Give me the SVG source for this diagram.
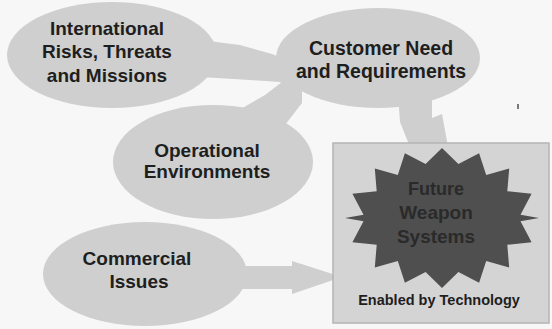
<svg xmlns="http://www.w3.org/2000/svg" width="552" height="329" viewBox="0 0 552 329">
  <style>
    .bubble { fill: #cfcfcf; }
    .flow { fill: #cfcfcf; }
    .label { font-family: "Liberation Sans", Arial, sans-serif; font-weight: bold; font-size: 19px; fill: #1e1e1e; text-anchor: middle; }
    .core { font-family: "Liberation Sans", Arial, sans-serif; font-weight: bold; font-size: 19px; fill: #2a2a2a; text-anchor: middle; }
    .note { font-family: "Liberation Sans", Arial, sans-serif; font-weight: bold; font-size: 14.5px; fill: #1e1e1e; text-anchor: middle; }
  </style>

  <rect x="0" y="0" width="552" height="329" fill="#f7f7f7"/>

  <!-- block arrows between the influence bubbles and the weapon-systems box -->
  <g id="connectors">
    <polygon class="flow" points="200,40 240,45 272,54 292,62 290,90 280,82 250,80 200,77"/>
    <polygon class="flow" points="232,114 265,95 282,82 302,82 302,103 285,125 262,132"/>
    <polygon class="flow" points="398,95 432,95 432,118 442,114 449,152 412,152 400,122"/>
    <polygon class="flow" points="228,266 292,266 292,261 342,277 292,294 292,289 228,289"/>
  </g>

  <g id="international">
    <ellipse class="bubble" cx="112" cy="55" rx="105" ry="53"/>
    <text class="label" x="107" y="35">International</text>
    <text class="label" x="107" y="58">Risks, Threats</text>
    <text class="label" x="107" y="82">and Missions</text>
  </g>

  <g id="customer">
    <ellipse class="bubble" cx="378" cy="58" rx="102" ry="50"/>
    <text class="label" x="381" y="55" style="font-size:19.5px">Customer Need</text>
    <text class="label" x="381" y="78" style="font-size:19.5px">and Requirements</text>
  </g>

  <g id="operational">
    <ellipse class="bubble" cx="213" cy="162" rx="100" ry="57"/>
    <text class="label" x="207" y="157">Operational</text>
    <text class="label" x="207" y="178">Environments</text>
  </g>

  <g id="commercial">
    <ellipse class="bubble" cx="145" cy="274" rx="102" ry="52"/>
    <text class="label" x="137" y="265">Commercial</text>
    <text class="label" x="139" y="288">Issues</text>
  </g>

  <g id="future-weapon-systems">
    <rect x="333" y="143" width="216" height="180" fill="#d4d4d4" stroke="#b4b4b4" stroke-width="1.5"/>
    <!-- 16-point starburst centred at (442,218) -->
    <polygon fill="#4f4f4f" points="442,148 458.4,163.9 479.1,153.3 486.2,175.0 509.2,168.5 507.3,191.2 531.6,193.7 520.5,214.7 539,218 520.5,221.3 531.6,242.3 507.3,244.8 509.2,267.5 486.2,261.0 479.1,282.7 458.4,272.1 442,288 425.6,272.1 404.9,282.7 397.8,261.0 374.8,267.5 376.7,244.8 352.4,242.3 363.5,221.3 345,218 363.5,214.7 352.4,193.7 376.7,191.2 374.8,168.5 397.8,175.0 404.9,153.3 425.6,163.9"/>
    <text class="core" x="436" y="195" style="font-size:18px">Future</text>
    <text class="core" x="436" y="219">Weapon</text>
    <text class="core" x="436" y="243">Systems</text>
    <text class="note" x="439" y="305">Enabled by Technology</text>
  </g>

  <rect x="517" y="104" width="2" height="5" fill="#7a7a7a"/>
</svg>
